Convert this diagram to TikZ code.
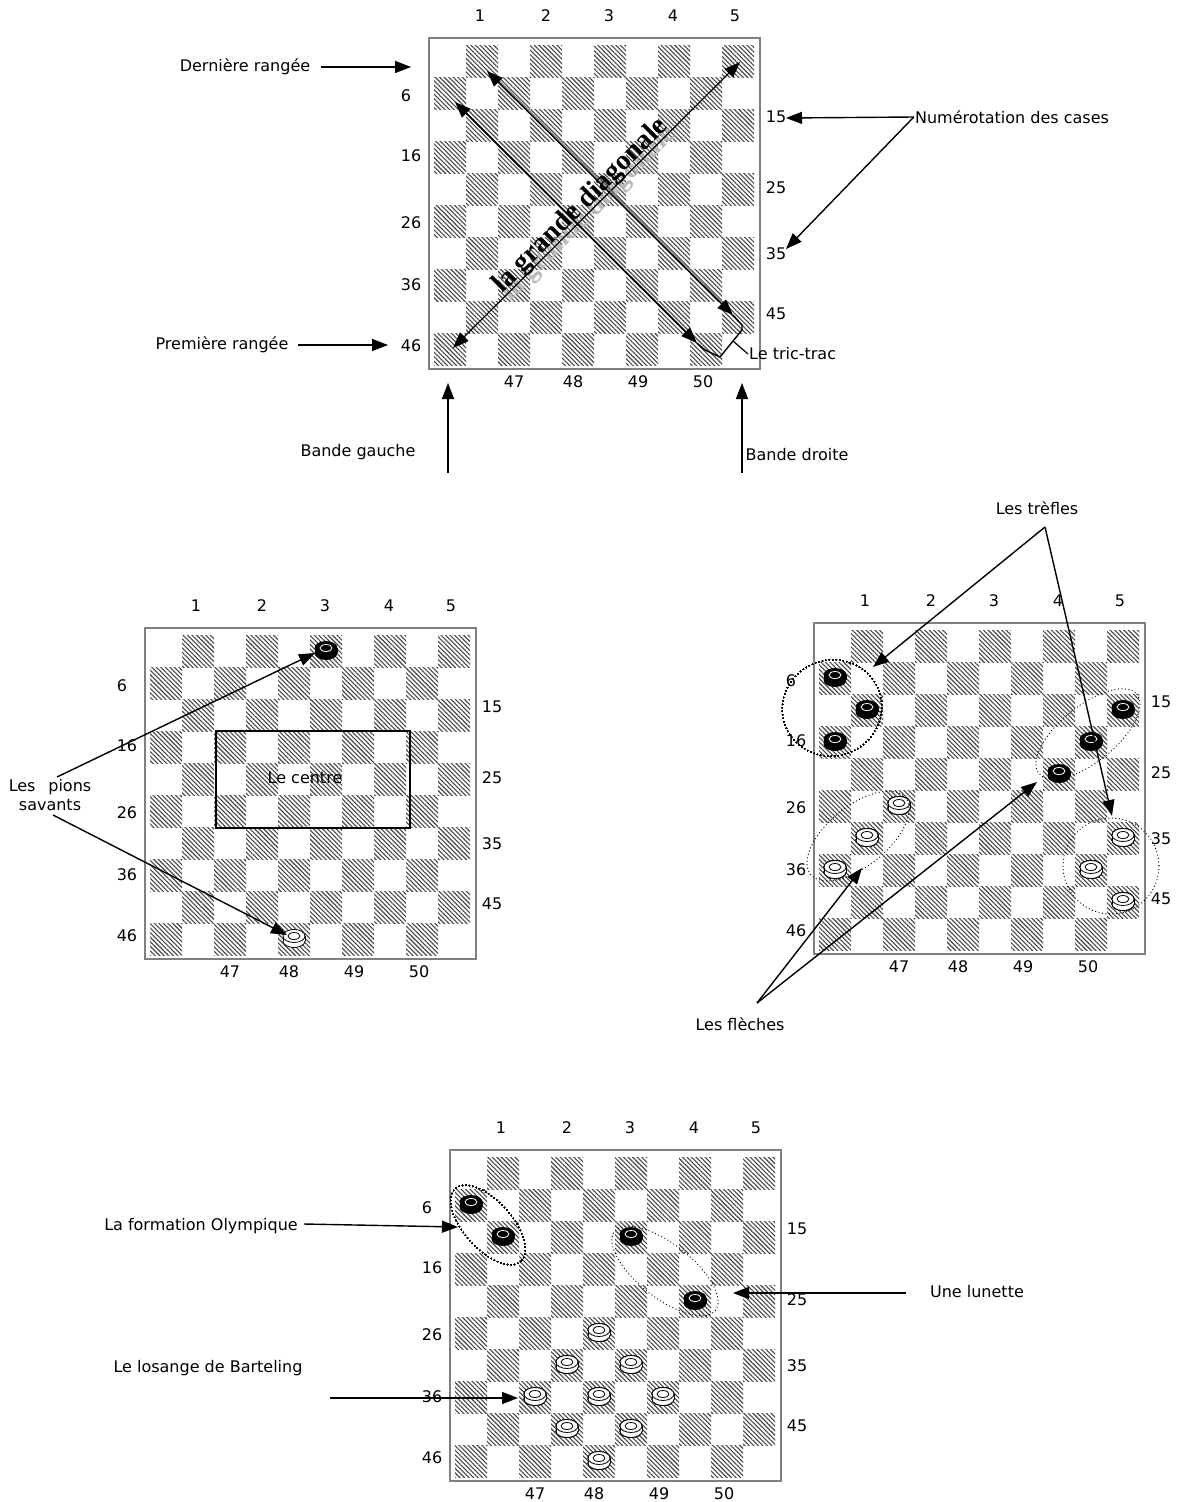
\documentclass[tikz,border=0pt]{standalone}
\usepackage{fontspec}
\setmainfont{DejaVu Sans}
\newfontfamily\seriffont{Liberation Serif}
\usetikzlibrary{arrows.meta,patterns.meta}
\definecolor{bordure}{RGB}{128,128,128}
\definecolor{hachure}{RGB}{70,70,70}

\newcommand{\damier}[3]{%
  \draw[bord] ({#1-5},{#2-7}) rectangle ({#1+326},{#2+324});
  \foreach \lig in {1,...,10}{\foreach \col in {1,...,10}{%
    \ifodd\numexpr\lig+\col\relax
      \path[case] ({#1+32*(\col-1)},{#2+32*(\lig-1)}) rectangle ++(32,32);
    \fi}}
  \foreach \nb/\dx in {1/46,2/112,3/175,4/239,5/301}
    \node[num] (#3-\nb) at ({#1+\dx},{#2-29}) {\nb};
  \foreach \nb/\dx/\dy in {6/-28/51,16/-23/111,26/-23/178,36/-23/240,46/-23/301}
    \node[num] (#3-\nb) at ({#1+(\dx)},{#2+\dy}) {\nb};
  \foreach \nb/\dy in {15/72,25/143,35/209,45/269}
    \node[num] (#3-\nb) at ({#1+342},{#2+\dy}) {\nb};
  \foreach \nb/\dx in {47/80,48/139,49/204,50/269}
    \node[num] (#3-\nb) at ({#1+\dx},{#2+337}) {\nb};
}

\newcommand{\pion}[2]{%
  \begin{scope}[shift={(#2)}]
    \filldraw[#1] (0,2) ellipse (11 and 6.5);
    \fill[#1,draw=none] (-11,-3) rectangle (11,2);
    \draw[line width=0.8pt] (-11,-3) -- (-11,2) (11,-3) -- (11,2);
    \filldraw[#1] (0,-3) ellipse (11 and 6.5);
    \draw[#1 anneau] (0,-3) ellipse (6 and 3.5);
  \end{scope}}

\begin{document}
\begin{tikzpicture}[x=1pt, y=-1pt,
  every node/.style={font=\fontsize{16}{19}\selectfont},
  num/.style={inner sep=1pt},
  etiq/.style={inner sep=1pt},
  bord/.style={draw=bordure, line width=1.5pt},
  case/.style={pattern={Lines[angle=-45,distance=3.2pt,line width=1.1pt]}, pattern color=hachure},
  fleche/.style={-{Triangle[length=16pt,width=12pt]}, line width=1.4pt},
  double fleche/.style={{Triangle[length=16pt,width=12pt]}-{Triangle[length=16pt,width=12pt]}, line width=1.4pt},
  groupe/.style={line cap=round, dash pattern=on 0pt off 3.5pt, line width=1.3pt},
  noir/.style={fill=black, draw=black, line width=0.8pt},
  blanc/.style={fill=white, draw=black, line width=0.8pt},
  noir anneau/.style={draw=white, line width=0.8pt},
  blanc anneau/.style={draw=black, line width=0.8pt},
  diagtexte/.style={font={\seriffont\bfseries\fontsize{28}{32}\selectfont}, rotate=45, inner sep=0pt}]

\useasboundingbox (0,0) rectangle (1182,1502);
\fill[white] (0,0) rectangle (1182,1502);

\damier{434}{45}{b1}
\damier{150}{635}{b2}
\damier{819}{630}{b3}
\damier{455}{1157}{b4}

% premier damier
\node[etiq] (derniere) at (245,67) {Dernière rangée};
\node[etiq] (premiere) at (222,345) {Première rangée};
\node[etiq] (numerotation) at (1012,117) {Numérotation des cases};
\node[etiq, anchor=west] (trictrac) at (748,354) {Le tric-trac};
\node[etiq] (bandeg) at (358,452) {Bande gauche};
\node[etiq] (banded) at (797,455) {Bande droite};

\coordinate (derniere-b) at (411,67);
\coordinate (premiere-b) at (388,345);
\coordinate (num-15) at (786,118);
\coordinate (num-35) at (786,249);
\coordinate (bandeg-a) at (448,473);
\coordinate (bandeg-b) at (448,383);
\coordinate (banded-a) at (742,473);
\coordinate (banded-b) at (742,383);

\draw[fleche, shorten <=10pt] (derniere) -- (derniere-b);
\draw[fleche, shorten <=8pt] (premiere) -- (premiere-b);
\draw[fleche] (numerotation.west) -- (num-15);
\draw[fleche] (numerotation.west) -- (num-35);
\draw[fleche] (bandeg-a) -- (bandeg-b);
\draw[fleche] (banded-a) -- (banded-b);

\coordinate (d1-a) at (453,348);
\coordinate (d1-b) at (740,62);
\coordinate (d2-a) at (455,102);
\coordinate (d2-b) at (697,343);
\coordinate (d3-a) at (487,71);
\coordinate (d3-b) at (733,315);
\coordinate (tric-pointe) at (733,341);

\node[diagtexte, text=gray!55] (diagonale-ombre) at (589,214) {la grande diagonale};
\draw[double fleche, line width=1.2pt] (d1-a) -- (d1-b);
\draw[double fleche, line width=1.8pt] (d2-a) -- (d2-b);
\draw[gray, line width=1.2pt, shorten <=14pt, shorten >=14pt] ([xshift=2.5pt]d3-a) -- ([xshift=2.5pt]d3-b);
\draw[double fleche] (d3-a) -- (d3-b);
\node[diagtexte] (diagonale) at (581,206) {la grande diagonale};

\draw[line width=1.4pt, line join=round] (d2-b) -- (705,350) -- (720,357) -- (tric-pointe) -- (742,330) -- (742,325) -- (d3-b);
\draw[line width=1.2pt] (tric-pointe) -- (trictrac.west);

% deuxieme damier
\draw[line width=2pt] (216,731) rectangle (410,828);
\node[etiq] (centre) at (305,778) {Le centre};
\pion{noir}{326,651}
\pion{blanc}{294,939}
\node[etiq, align=center] (savants) at (50,795) {Les\hspace{0.8em}pions\\savants};
\coordinate (savants-a) at (57,777);
\coordinate (savants-b) at (53,815);
\coordinate (savant-3) at (315,653);
\coordinate (savant-48) at (287,935);
\draw[fleche] (savants-a) -- (savant-3);
\draw[fleche] (savants-b) -- (savant-48);

% troisieme damier
\foreach \col/\lig in {1/2,2/3,1/4,10/3,9/4,8/5}
  \pion{noir}{803+32*\col,614+32*\lig}
\foreach \col/\lig in {3/6,2/7,1/8,10/7,9/8,10/9}
  \pion{blanc}{803+32*\col,614+32*\lig}
\draw[groupe, rotate around={20:(832,708)}] (832,708) ellipse (50 and 48);
\draw[groupe, rotate around={39:(1088,734)}] (1088,734) ellipse (63 and 28);
\draw[groupe, rotate around={39:(858,836)}] (858,836) ellipse (61 and 30);
\draw[groupe] (1111,866) circle (48);

\node[etiq] (trefles) at (1037,508) {Les trèfles};
\node[etiq] (fleches) at (740,1024) {Les flèches};
\coordinate (trefles-a) at (1045,527);
\coordinate (trefle-g) at (873,667);
\coordinate (trefle-d) at (1112,816);
\coordinate (fleches-a) at (757,1003);
\coordinate (fleche-g) at (862,868);
\coordinate (fleche-d) at (1037,782);
\draw[fleche] (trefles-a) -- (trefle-g);
\draw[fleche] (trefles-a) -- (trefle-d);
\draw[fleche] (fleches-a) -- (fleche-g);
\draw[fleche] (fleches-a) -- (fleche-d);

% quatrieme damier
\foreach \col/\lig in {1/2,2/3,6/3,8/5}
  \pion{noir}{439+32*\col,1141+32*\lig}
\foreach \col/\lig in {5/6,4/7,6/7,3/8,5/8,7/8,4/9,6/9,5/10}
  \pion{blanc}{439+32*\col,1141+32*\lig}
\draw[groupe, rotate around={-48:(488,1225)}] (488,1225) ellipse (49 and 24);
\draw[groupe, rotate around={-38:(665,1271)}] (665,1271) ellipse (64 and 27);

\node[etiq] (olympique) at (201,1226) {La formation Olympique};
\node[etiq] (lunette) at (977,1292) {Une lunette};
\node[etiq] (losange) at (208,1368) {Le losange de Barteling};
\coordinate (olympique-a) at (304,1224);
\coordinate (olympique-b) at (458,1227);
\coordinate (lunette-a) at (906,1293);
\coordinate (lunette-b) at (733,1293);
\coordinate (losange-a) at (330,1398);
\coordinate (losange-b) at (518,1398);
\draw[fleche] (olympique-a) -- (olympique-b);
\draw[fleche] (lunette-a) -- (lunette-b);
\draw[fleche] (losange-a) -- (losange-b);

\end{tikzpicture}
\end{document}
